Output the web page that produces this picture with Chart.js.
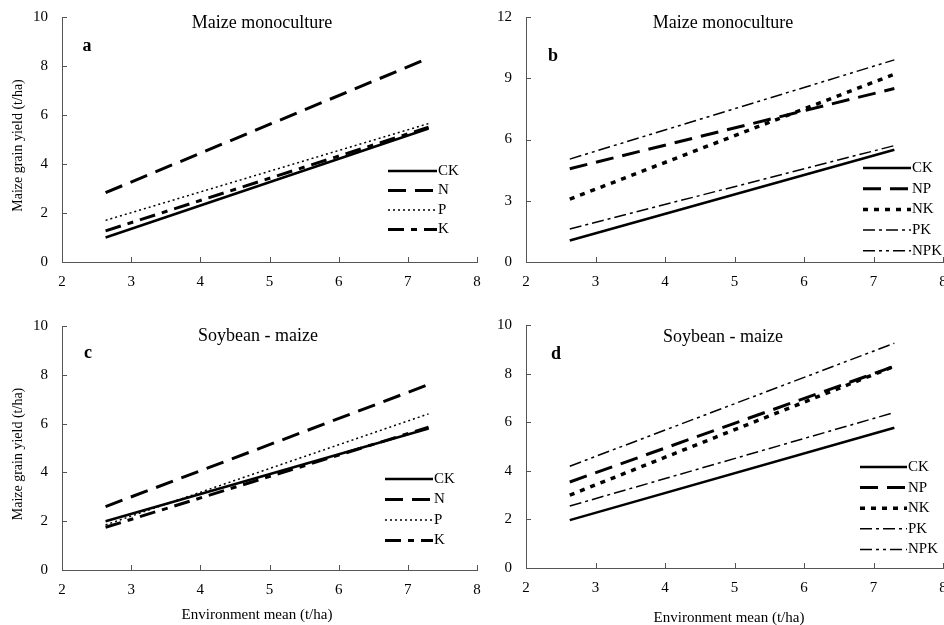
<!DOCTYPE html>
<html><head><meta charset="utf-8">
<script src="https://cdn.jsdelivr.net/npm/chart.js@4.4.1/dist/chart.umd.min.js"></script>
<style>
html,body{margin:0;padding:0;background:#fff;overflow:hidden;width:944px;height:625px;}
canvas{position:absolute;left:0;top:0;}
</style></head><body>
<canvas id="ca" width="980" height="625"></canvas>
<canvas id="cb" width="980" height="625"></canvas>
<canvas id="cc" width="980" height="625"></canvas>
<canvas id="cd" width="980" height="625"></canvas>
<script>
// ---- data ----
const envMean = [2.63, 7.3];           // x range of the fitted lines (t/ha)
const xTickValues = [2, 3, 4, 5, 6, 7, 8];

const seriesSingle = ['CK', 'N', 'P', 'K'];
const seriesCombo  = ['CK', 'NP', 'NK', 'PK', 'NPK'];

// Panel a: maize monoculture, single nutrients
const monoCK = [1.00, 5.45];
const monoN  = [2.83, 8.32];
const monoP  = [1.70, 5.65];
const monoK  = [1.27, 5.50];
// Panel b: maize monoculture, combinations
const monoCK2 = [1.05, 5.50];
const monoNP  = [4.57, 8.50];
const monoNK  = [3.08, 9.20];
const monoPK  = [1.62, 5.70];
const monoNPK = [5.04, 9.90];
// Panel c: soybean - maize, single nutrients
const rotCK = [2.00, 5.80];
const rotN  = [2.60, 7.60];
const rotP  = [1.85, 6.40];
const rotK  = [1.75, 5.85];
// Panel d: soybean - maize, combinations
const rotCK2 = [1.97, 5.77];
const rotNP  = [3.54, 8.30];
const rotNK  = [3.00, 8.30];
const rotPK  = [2.55, 6.40];
const rotNPK = [4.19, 9.25];

const titleMono = 'Maize monoculture';
const titleRot = 'Soybean - maize';
const yTitleText = 'Maize grain yield (t/ha)';
const xTitleText = 'Environment mean (t/ha)';

// ---- styles ----
const lineStyles = {
  CK:  {w: 2.5, dash: []},
  N:   {w: 3,   dash: [18, 9]},
  P:   {w: 1.5, dash: [2, 3]},
  K:   {w: 3,   dash: [16, 7, 6, 7]},
  NP:  {w: 3,   dash: [18, 9]},
  NK:  {w: 3.5, dash: [5, 6]},
  PK:  {w: 1.5, dash: [12, 4, 3, 4]},
  NPK: {w: 1.5, dash: [12, 4, 3, 4, 3, 4]}
};
const SERIF = '"Liberation Serif", "Times New Roman", serif';
const AXIS_COLOR = '#555';
const W = 980, H = 625, YW = 40, XH = 30;

const panelPlugin = {
  id: 'panelDecor',
  afterDraw(chart) {
    const o = chart.options.plugins.panelDecor;
    const ctx = chart.ctx, a = chart.chartArea;
    const xs = chart.scales.x, ys = chart.scales.y;
    ctx.save();
    // inner tick marks
    ctx.strokeStyle = AXIS_COLOR; ctx.lineWidth = 1;
    ctx.beginPath();
    xs.ticks.forEach(t => { const px = Math.round(xs.getPixelForValue(t.value)) + 0.5;
      ctx.moveTo(px, a.bottom); ctx.lineTo(px, a.bottom - 5); });
    ys.ticks.forEach(t => { const py = Math.round(ys.getPixelForValue(t.value)) + 0.5;
      ctx.moveTo(a.left, py); ctx.lineTo(a.left + 5, py); });
    ctx.stroke();
    ctx.fillStyle = '#000';
    // title
    ctx.font = '18px ' + SERIF; ctx.textAlign = 'center'; ctx.textBaseline = 'middle';
    ctx.fillText(o.title, a.left + o.titleDx, a.top + o.titleDy);
    // panel letter
    ctx.font = 'bold 18px ' + SERIF;
    ctx.fillText(o.letter, a.left + o.letterDx, a.top + o.letterDy);
    // legend
    ctx.font = '15px ' + SERIF; ctx.textAlign = 'left';
    chart.data.datasets.forEach((ds, i) => {
      const y = a.bottom - o.legendDy + i * o.legendGap;
      const x0 = a.right - o.legendDx, x1 = x0 + o.legendLen;
      ctx.strokeStyle = '#000'; ctx.lineWidth = ds.borderWidth; ctx.setLineDash(ds.borderDash);
      ctx.beginPath(); ctx.moveTo(x0, y); ctx.lineTo(x1, y); ctx.stroke();
      ctx.setLineDash([]);
      ctx.fillText(ds.label, x1 + 1, y);
    });
    // axis titles
    ctx.textAlign = 'center';
    if (o.yTitle) {
      ctx.font = '14px ' + SERIF;
      ctx.translate(18, (a.top + a.bottom) / 2 + 6);
      ctx.rotate(-Math.PI / 2);
      ctx.fillText(yTitleText, 0, 0);
      ctx.setTransform(1, 0, 0, 1, 0, 0);
    }
    if (o.xTitle) {
      ctx.font = '15px ' + SERIF;
      ctx.fillText(xTitleText, a.left + o.xTitleDx, a.bottom + o.xTitleDy);
    }
    ctx.restore();
  }
};

function makePanel(id, names, values, area, yMax, yStep, deco) {
  const datasets = names.map((n, i) => ({
    label: n,
    data: envMean.map((x, j) => ({x: x, y: values[i][j]})),
    borderColor: '#000', borderWidth: lineStyles[n].w, borderDash: lineStyles[n].dash,
    pointRadius: 0, fill: false, tension: 0, borderCapStyle: 'butt'
  }));
  return new Chart(document.getElementById(id), {
    type: 'line',
    data: {datasets},
    options: {
      responsive: false, animation: false, events: [],
      layout: {padding: {left: area.l - YW, top: area.t, right: W - area.r, bottom: H - area.b - XH}},
      plugins: {legend: {display: false}, tooltip: {enabled: false}, panelDecor: deco},
      scales: {
        x: {type: 'linear', min: 2, max: 8,
            afterBuildTicks: s => { s.ticks = xTickValues.map(v => ({value: v})); },
            afterFit: s => { s.height = XH; },
            grid: {display: false}, border: {display: true, color: AXIS_COLOR, width: 1},
            ticks: {color: '#000', font: {family: SERIF, size: 15}, padding: 3, maxRotation: 0, autoSkip: false}},
        y: {type: 'linear', min: 0, max: yMax,
            ticks: {stepSize: yStep, color: '#000', font: {family: SERIF, size: 15}, padding: 6},
            afterFit: s => { s.width = YW; },
            grid: {display: false}, border: {display: true, color: AXIS_COLOR, width: 1}}
      }
    },
    plugins: [panelPlugin]
  });
}

makePanel('ca', seriesSingle, [monoCK, monoN, monoP, monoK],
  {l: 62, t: 17, r: 477, b: 262}, 10, 2,
  {title: titleMono, titleDx: 200, titleDy: 6, letter: 'a', letterDx: 25, letterDy: 29,
   legendDx: 89, legendDy: 91, legendGap: 19.5, legendLen: 49, yTitle: true, xTitle: false});
makePanel('cb', seriesCombo, [monoCK2, monoNP, monoNK, monoPK, monoNPK],
  {l: 526, t: 17, r: 943, b: 262}, 12, 3,
  {title: titleMono, titleDx: 197, titleDy: 6, letter: 'b', letterDx: 27, letterDy: 39,
   legendDx: 80, legendDy: 94, legendGap: 20.7, legendLen: 48, yTitle: false, xTitle: false});
makePanel('cc', seriesSingle, [rotCK, rotN, rotP, rotK],
  {l: 62, t: 326, r: 477, b: 570}, 10, 2,
  {title: titleRot, titleDx: 196, titleDy: 10, letter: 'c', letterDx: 26, letterDy: 27,
   legendDx: 92, legendDy: 91, legendGap: 20.5, legendLen: 48, yTitle: true, xTitle: true,
   xTitleDx: 195, xTitleDy: 45});
makePanel('cd', seriesCombo, [rotCK2, rotNP, rotNK, rotPK, rotNPK],
  {l: 526, t: 325, r: 943, b: 568}, 10, 2,
  {title: titleRot, titleDx: 197, titleDy: 12, letter: 'd', letterDx: 30, letterDy: 29,
   legendDx: 83, legendDy: 101, legendGap: 20.6, legendLen: 47, yTitle: false, xTitle: true,
   xTitleDx: 203, xTitleDy: 50});
</script>
</body></html>
